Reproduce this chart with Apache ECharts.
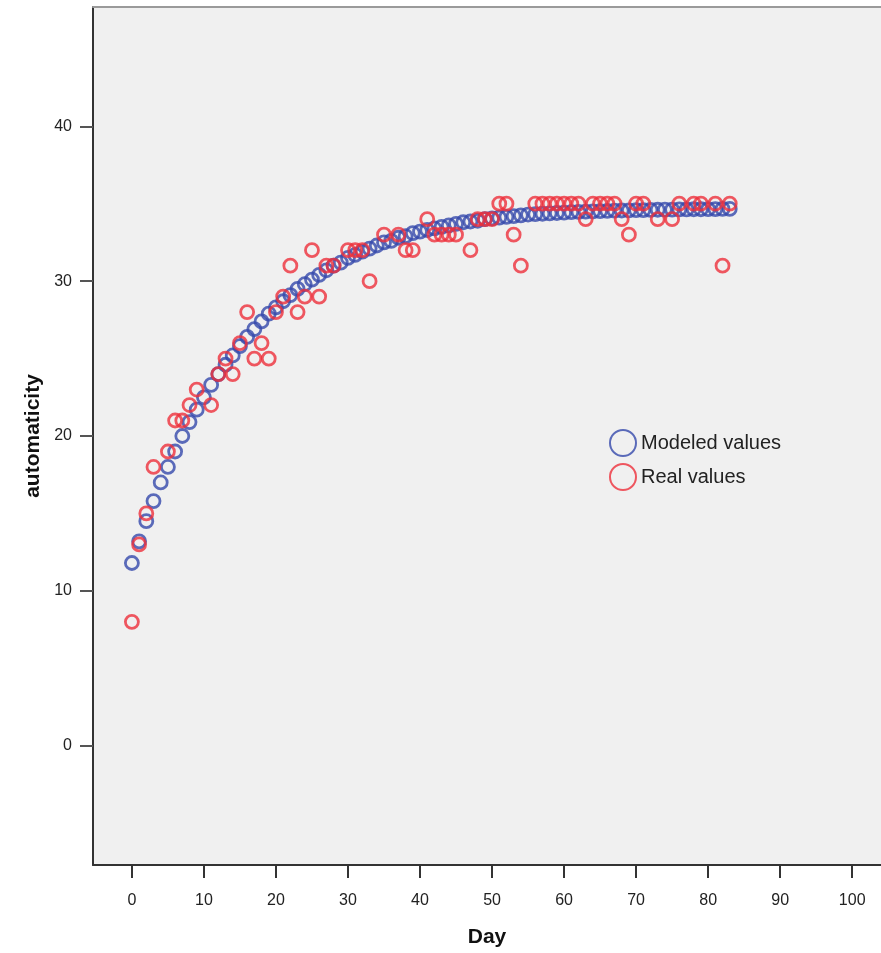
<!DOCTYPE html>
<html>
<head>
<meta charset="utf-8">
<script src="https://cdn.jsdelivr.net/npm/echarts@6/dist/echarts.min.js"></script>
<style>
html, body { margin: 0; padding: 0; background: #fff; }
#chart { width: 881px; height: 953px; }
</style>
</head>
<body>
<div id="chart"></div>
<script>
// modeled curve, one value per day 0..83
var modeledValues = [
  11.8, 13.2, 14.5, 15.8, 17.0, 18.0, 19.0, 20.0, 20.9, 21.7,
  22.5, 23.3, 24.0, 24.6, 25.2, 25.8, 26.4, 26.9, 27.4, 27.9,
  28.3, 28.7, 29.1, 29.5, 29.8, 30.1, 30.4, 30.7, 31.0, 31.2,
  31.5, 31.7, 31.9, 32.1, 32.3, 32.5, 32.6, 32.8, 32.9, 33.1,
  33.2, 33.3, 33.4, 33.5, 33.6, 33.7, 33.8, 33.85, 33.9, 34.0,
  34.05, 34.1, 34.15, 34.2, 34.25, 34.3, 34.32, 34.35, 34.38, 34.4,
  34.42, 34.45, 34.47, 34.49, 34.5, 34.52, 34.53, 34.55, 34.56, 34.57,
  34.58, 34.59, 34.6, 34.61, 34.62, 34.62, 34.63, 34.63, 34.64, 34.64,
  34.65, 34.65, 34.66, 34.66
];

// observed values: days and scores
var realDays = [
  0, 1, 2, 3, 5, 6, 7, 8, 9, 11,
  12, 13, 14, 15, 16, 17, 18, 19, 20, 21,
  22, 23, 24, 25, 26, 27, 28, 30, 31, 32,
  33, 35, 37, 38, 39, 41, 42, 43, 44, 45,
  47, 48, 49, 50, 51, 52, 53, 54, 56, 57,
  58, 59, 60, 61, 62, 63, 64, 65, 66, 67,
  68, 69, 70, 71, 73, 75, 76, 78, 79, 81,
  82, 83
];
var realValues = [
  8, 13, 15, 18, 19, 21, 21, 22, 23, 22,
  24, 25, 24, 26, 28, 25, 26, 25, 28, 29,
  31, 28, 29, 32, 29, 31, 31, 32, 32, 32,
  30, 33, 33, 32, 32, 34, 33, 33, 33, 33,
  32, 34, 34, 34, 35, 35, 33, 31, 35, 35,
  35, 35, 35, 35, 35, 34, 35, 35, 35, 35,
  34, 33, 35, 35, 34, 34, 35, 35, 35, 35,
  31, 35
];

var xTicks = [0, 10, 20, 30, 40, 50, 60, 70, 80, 90, 100];
var yTicks = [0, 10, 20, 30, 40];

var modeledData = [];
for (var i = 0; i < modeledValues.length; i++) {
  modeledData.push([i, modeledValues[i]]);
}
var realData = [];
for (var j = 0; j < realDays.length; j++) {
  realData.push([realDays[j], realValues[j]]);
}

var blue = '#3549ab';
var red = '#ee2f3b';
var font = 'Liberation Sans, Arial, sans-serif';

var myChart = echarts.init(document.getElementById('chart'));
var option = {
  animation: false,
  backgroundColor: '#ffffff',
  grid: {
    left: 93, right: 0, top: 7, bottom: 86,
    show: true,
    backgroundColor: '#f0f0f0',
    borderWidth: 0
  },
  legend: {
    orient: 'vertical',
    left: 604,
    top: 424,
    itemWidth: 26,
    itemHeight: 26,
    itemGap: 6,
    icon: 'circle',
    textStyle: { fontFamily: font, fontSize: 20, color: '#222' },
    data: ['Modeled values', 'Real values']
  },
  xAxis: [
    {
      type: 'value',
      min: -5.4,
      max: 104,
      name: 'Day',
      nameLocation: 'middle',
      nameGap: 62,
      nameTextStyle: { fontFamily: font, fontSize: 21, fontWeight: 'bold', color: '#111' },
      axisLine: { show: true, onZero: false, lineStyle: { color: '#333', width: 2 } },
      axisTick: { show: true, length: 13, customValues: xTicks, lineStyle: { color: '#333', width: 2 } },
      axisLabel: { customValues: xTicks, margin: 28, fontFamily: font, fontSize: 16, color: '#222' },
      splitLine: { show: false }
    },
    {
      // top frame line only
      type: 'value',
      position: 'top',
      min: -5.4,
      max: 104,
      axisLine: { show: true, onZero: false, lineStyle: { color: '#9a9a9a', width: 2 } },
      axisTick: { show: false },
      axisLabel: { show: false },
      splitLine: { show: false }
    }
  ],
  yAxis: {
    type: 'value',
    min: -7.7,
    max: 47.7,
    name: 'automaticity',
    nameLocation: 'middle',
    nameGap: 49,
    nameTextStyle: { fontFamily: font, fontSize: 21, fontWeight: 'bold', color: '#111' },
    axisLine: { show: true, onZero: false, lineStyle: { color: '#333', width: 2 } },
    axisTick: { show: true, length: 13, customValues: yTicks, lineStyle: { color: '#555', width: 2 } },
    axisLabel: { customValues: yTicks, margin: 21, fontFamily: font, fontSize: 16, color: '#222' },
    splitLine: { show: false }
  },
  series: [
    {
      name: 'Modeled values',
      type: 'scatter',
      symbol: 'circle',
      symbolSize: 13,
      itemStyle: { color: 'rgba(0,0,0,0)', borderColor: blue, borderWidth: 2.8 },
      data: modeledData
    },
    {
      name: 'Real values',
      type: 'scatter',
      symbol: 'circle',
      symbolSize: 13,
      itemStyle: { color: 'rgba(0,0,0,0)', borderColor: red, borderWidth: 2.8 },
      data: realData
    }
  ]
};
myChart.setOption(option);
</script>
</body>
</html>
